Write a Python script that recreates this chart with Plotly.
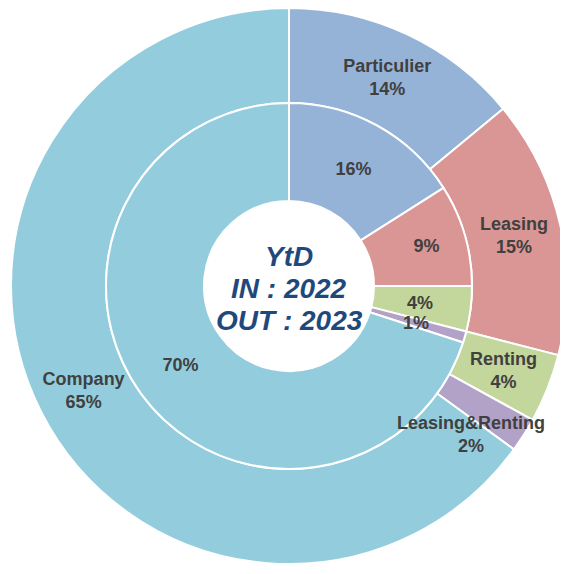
import math
import plotly.graph_objects as go

categories = ["Particulier", "Leasing", "Renting", "Leasing&Renting", "Company"]
outer_values = [14, 15, 4, 2, 65]   # OUT : 2023
inner_values = [16, 9, 4, 1, 70]    # IN : 2022
colors = ["#95B3D7", "#D99694", "#C3D69B", "#B3A2C7", "#93CDDD"]
center_lines = ["YtD", "IN : 2022", "OUT : 2023"]

OFF = 8                          # page body margin
W, H = 568 - OFF, 556            # figure fits inside the window
cx, cy = 289 - OFF, 286 - OFF
R_out, R_in, R_hole = 278, 183, 85

font_family = "Liberation Sans, Arial, sans-serif"
label_font = dict(family=font_family, size=18, color="#404040")

# labels of narrow slices are drawn as free annotations (they overflow their slice)
outer_small = {2, 3}
inner_small = {2, 3}
outer_templates = ["" if i in outer_small else "<b>%{label}</b><br><b>%{percent:.0%}</b>"
                   for i in range(len(categories))]
inner_templates = ["" if i in inner_small else "<b>%{percent:.0%}</b>"
                   for i in range(len(categories))]

fig = go.Figure()
fig.add_trace(go.Pie(
    labels=categories, values=outer_values, sort=False, direction="clockwise", rotation=0,
    hole=R_in / R_out,
    marker=dict(colors=colors, line=dict(color="white", width=2)),
    texttemplate=outer_templates,
    textposition="inside", insidetextorientation="horizontal",
    textfont=label_font,
    domain=dict(x=[(cx - R_out) / W, (cx + R_out) / W], y=[max(0, 1 - (cy + R_out) / H), 1 - (cy - R_out) / H]),
    showlegend=False, hoverinfo="label+percent",
))
fig.add_trace(go.Pie(
    labels=categories, values=inner_values, sort=False, direction="clockwise", rotation=0,
    hole=R_hole / R_in,
    marker=dict(colors=colors, line=dict(color="white", width=2)),
    texttemplate=inner_templates,
    textposition="inside", insidetextorientation="horizontal",
    textfont=label_font,
    domain=dict(x=[(cx - R_in) / W, (cx + R_in) / W], y=[1 - (cy + R_in) / H, 1 - (cy - R_in) / H]),
    showlegend=False, hoverinfo="label+percent",
))


def slice_mid(values, i, r, dx=0, dy=0):
    total = sum(values)
    start = sum(values[:i]) / total
    frac = (start + values[i] / total / 2) * 2 * math.pi
    px = cx + r * math.sin(frac) + dx
    py = cy - r * math.cos(frac) + dy
    return px / W, 1 - py / H


def add_label(pos, text):
    fig.add_annotation(x=pos[0], y=pos[1], xref="paper", yref="paper", text=text,
                       showarrow=False, align="center", xanchor="center", yanchor="middle",
                       font=label_font)


r_out_mid = (R_in + R_out) / 2
r_in_mid = (R_hole + R_in) / 2
tot_o, tot_i = sum(outer_values), sum(inner_values)
# outer: Renting at mid-slice, Leasing&Renting nudged down-left as in the original
add_label(slice_mid(outer_values, 2, r_out_mid),
          f"<b>{categories[2]}</b><br><b>{round(100 * outer_values[2] / tot_o)}%</b>")
add_label(slice_mid(outer_values, 3, r_out_mid, dx=-13, dy=25),
          f"<b>{categories[3]}</b><br><b>{round(100 * outer_values[3] / tot_o)}%</b>")
for i in inner_small:
    add_label(slice_mid(inner_values, i, r_in_mid, dx=-2),
              f"<b>{round(100 * inner_values[i] / tot_i)}%</b>")

# center text
line_offsets = [-30, 2, 34]
for line, dy in zip(center_lines, line_offsets):
    fig.add_annotation(
        x=cx / W, y=1 - (cy + dy) / H, xref="paper", yref="paper",
        text=f"<b><i>{line}</i></b>", showarrow=False, align="center",
        xanchor="center", yanchor="middle",
        font=dict(family=font_family, size=28, color="#1F497D"),
    )

fig.update_layout(
    width=W, height=H, margin=dict(l=0, r=0, t=0, b=0),
    paper_bgcolor="white", plot_bgcolor="white",
    uniformtext=dict(minsize=18, mode="show"),
)
fig.write_html("out.html")
